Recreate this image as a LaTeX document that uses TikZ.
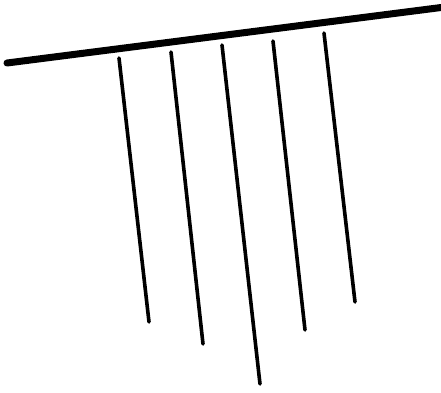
\documentclass[tikz,border=0pt]{standalone}
\usepackage{tikz}
\usetikzlibrary{calc}

\begin{document}
\begin{tikzpicture}[x=1pt, y=-1pt,
  rail/.style={line width=7pt, line cap=round},
  strand/.style={line width=3.6pt, line cap=round}]
  \useasboundingbox (0,0) rectangle (441,392);
  % top bar
  \coordinate (railL) at (7,63);
  \coordinate (railR) at (445,7);
  \draw[rail] (railL) -- (railR);
  % hanging lines
  \foreach \name/\tx/\ty/\bx/\by in {a/119/58/149/322, b/171/52/203/344, c/222/45/260/384,
                                     d/273/41/305/330, e/324/33/355/302} {
    \coordinate (\name top) at (\tx,\ty);
    \coordinate (\name bot) at (\bx,\by);
    \draw[strand] (\name top) -- (\name bot);
  }
\end{tikzpicture}
\end{document}
